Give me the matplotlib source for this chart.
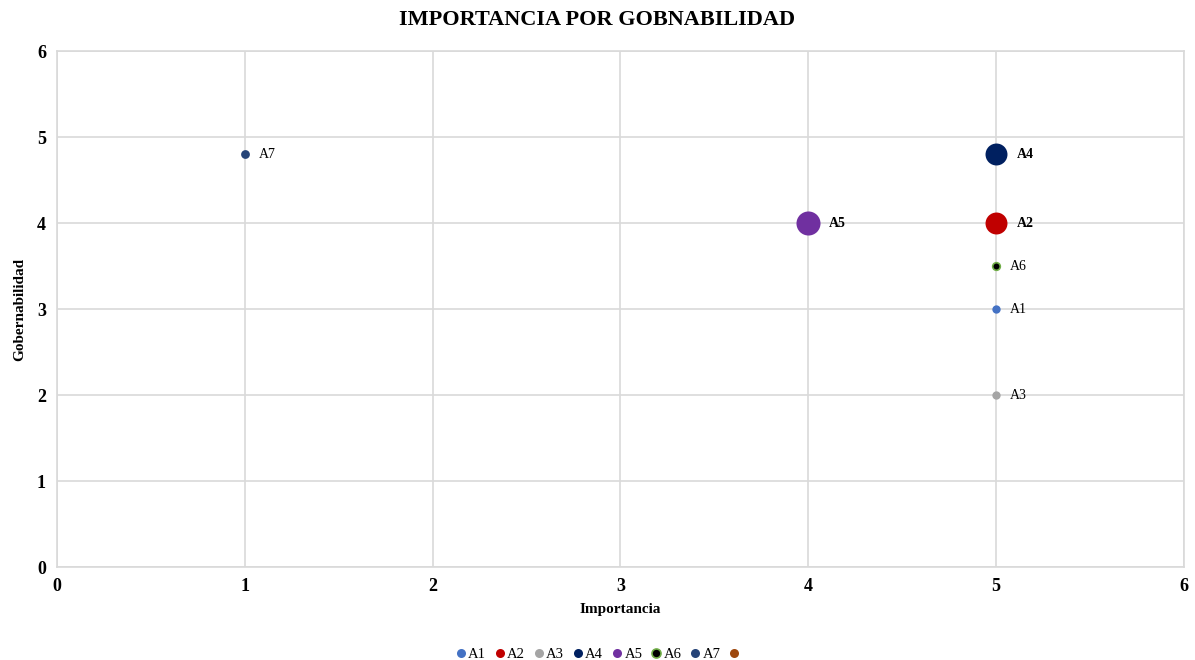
"""Importancia por gobernabilidad"""

import matplotlib
matplotlib.use("Agg")
import matplotlib.pyplot as plt
from matplotlib.lines import Line2D

plt.rcParams['font.family'] = ['Liberation Serif', 'DejaVu Serif']

# data
names = ['A1', 'A2', 'A3', 'A4', 'A5', 'A6', 'A7']
importancia = [5, 5, 5, 5, 4, 5, 1]
gobernabilidad = [3, 4, 2, 4.8, 4, 3.5, 4.8]
sizes = [36, 250, 36, 250, 300, 30, 40]
colors = ['#4472C4', '#C00000', '#A5A5A5', '#002060', '#7030A0', '#000000', '#264478']
edges = ['#4472C4', '#C00000', '#A5A5A5', '#002060', '#7030A0', '#70AD47', '#264478']
bold_label = [False, True, False, True, True, False, False]
extra_color = '#9E480E'

fig = plt.figure(figsize=(11.95, 6.6), dpi=100)
ax = fig.add_axes([0.0477, 0.1409, 0.943, 0.7818])

handles = []
for i in range(len(names)):
    is_a6 = names[i] == 'A6'
    ax.scatter(importancia[i], gobernabilidad[i], s=sizes[i], color=colors[i],
               edgecolors=edges[i], linewidths=1.2 if is_a6 else 0, zorder=3)
    big = sizes[i] > 100
    ax.annotate(names[i], (importancia[i], gobernabilidad[i]),
                xytext=(15 if big else 10, 0), textcoords='offset points',
                va='center', ha='left', fontsize=10,
                fontweight='bold' if bold_label[i] else 'normal', zorder=4)
    handles.append(Line2D([], [], linestyle='none', marker='o', markersize=6.5,
                          markerfacecolor=colors[i], markeredgecolor=edges[i],
                          markeredgewidth=1.2 if is_a6 else 0, label=names[i]))

# empty series, shows only in legend
handles.append(Line2D([], [], linestyle='none', marker='o', markersize=6.5,
                      markerfacecolor=extra_color, markeredgewidth=0, label=''))

ax.set_xlim(0, 6)
ax.set_ylim(0, 6)
ax.set_xticks(range(0, 7))
ax.set_yticks(range(0, 7))
ax.grid(True, color='#D9D9D9', linewidth=1.2, zorder=0)
ax.set_axisbelow(True)
for sp in ax.spines.values():
    sp.set_color('#D9D9D9')
    sp.set_linewidth(1.2)
ax.tick_params(length=0, labelsize=13, pad=8)
for lbl in ax.get_xticklabels() + ax.get_yticklabels():
    lbl.set_fontweight('bold')

ax.set_xlabel('Importancia', fontsize=11, fontweight='bold', labelpad=6)
ax.set_ylabel('Gobernabilidad', fontsize=11, fontweight='bold', labelpad=8)
fig.suptitle('IMPORTANCIA POR GOBNABILIDAD', fontsize=16, fontweight='bold', y=0.985)

fig.legend(handles=handles, loc='lower center', bbox_to_anchor=(0.5, -0.022), ncol=8,
           frameon=False, fontsize=10.5, handletextpad=0.0, columnspacing=0.45,
           handlelength=1.0)

fig.savefig('out.png', dpi=100)
